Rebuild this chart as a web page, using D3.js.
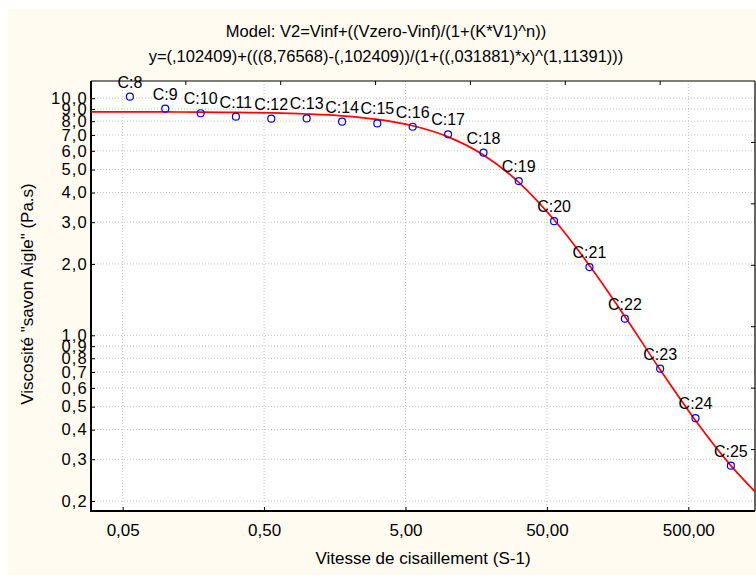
<!DOCTYPE html>
<html lang="fr">
  <head>
    <meta charset="utf-8" />
    <title>Viscosité savon Aigle</title>
    <script src="https://d3js.org/d3.v7.min.js"></script>
    <style>
      body { margin: 0; background: #fff; }
      text { font-family: Arial, "Liberation Sans", sans-serif; fill: #000; }
    </style>
  </head>
  <body>
    <div id="chart"></div>
    <script>
      // measured points C:8 .. C:25
      const pointLabels = ["C:8", "C:9", "C:10", "C:11", "C:12", "C:13", "C:14", "C:15", "C:16",
        "C:17", "C:18", "C:19", "C:20", "C:21", "C:22", "C:23", "C:24", "C:25"];
      const shearRates = [0.0562, 0.1, 0.178, 0.316, 0.562, 1, 1.78, 3.16, 5.62,
        10, 17.8, 31.6, 56.2, 100, 178, 316, 562, 1000];
      const viscosities = [10.15, 9.03, 8.64, 8.36, 8.2, 8.22, 7.96, 7.83, 7.58,
        7.04, 5.89, 4.47, 3.03, 1.94, 1.175, 0.723, 0.447, 0.282];

      // fitted model curve
      const curveX = [0.03, 0.0562, 0.1, 0.178, 0.316, 0.562, 1, 1.78, 3.16, 5.62,
        10, 17.8, 31.6, 56.2, 100, 178, 316, 562, 1000, 1480];
      const curveY = [8.76, 8.76, 8.75, 8.74, 8.71, 8.67, 8.58, 8.43, 8.14, 7.65,
        6.87, 5.76, 4.42, 3.07, 1.97, 1.2, 0.716, 0.437, 0.282, 0.219];

      // axes
      const xTicks = [0.05, 0.5, 5, 50, 500];
      const xTickLabels = ["0,05", "0,50", "5,00", "50,00", "500,00"];
      const yTicks = [0.2, 0.3, 0.4, 0.5, 0.6, 0.7, 0.8, 0.9, 1, 2, 3, 4, 5, 6, 7, 8, 9, 10];
      const yTickLabels = ["0,2", "0,3", "0,4", "0,5", "0,6", "0,7", "0,8", "0,9", "1,0",
        "2,0", "3,0", "4,0", "5,0", "6,0", "7,0", "8,0", "9,0", "10,0"];
      const xRange = [0.02985, 1481];
      const yRange = [0.1815, 11.82];

      const titleLine1 = "Model: V2=Vinf+((Vzero-Vinf)/(1+(K*V1)^n))";
      const titleLine2 = "y=(,102409)+(((8,76568)-(,102409))/(1+((,031881)*x)^(1,11391)))";
      const xTitle = "Vitesse de cisaillement (S-1)";
      const yTitle = 'Viscosité "savon Aigle" (Pa.s)';

      const W = 756, H = 580;
      const margin = { top: 81, right: 1, bottom: 69, left: 91 },
        width = W - margin.left - margin.right,
        height = H - margin.top - margin.bottom;

      const root = d3.select("#chart").append("svg").attr("width", W).attr("height", H);

      // cream background with thin white edge
      root.append("rect").attr("width", W).attr("height", H).attr("fill", "#fff");
      root.append("rect").attr("x", 8).attr("y", 9).attr("width", W - 8).attr("height", H - 14)
        .attr("fill", "#fffbf0");

      // titles (centred on the window, not the plot)
      root.append("text").attr("x", 386).attr("y", 37)
        .attr("text-anchor", "middle").attr("font-size", 16.5).text(titleLine1);
      root.append("text").attr("x", 386).attr("y", 62)
        .attr("text-anchor", "middle").attr("font-size", 16.5).text(titleLine2);

      const svg = root.append("g").attr("transform", `translate(${margin.left},${margin.top})`);
      svg.append("rect").attr("width", width).attr("height", height).attr("fill", "#fff");

      const x = d3.scaleLog().domain(xRange).range([0, width]);
      const y = d3.scaleLog().domain(yRange).range([height, 0]);

      // grid
      svg.append("g").selectAll("line").data(yTicks).join("line")
        .attr("x1", 0).attr("x2", width)
        .attr("y1", (d) => y(d)).attr("y2", (d) => y(d))
        .attr("stroke", "#c4c4c4").attr("stroke-dasharray", "1,2");
      svg.append("g").selectAll("line").data(xTicks).join("line")
        .attr("y1", 0).attr("y2", height)
        .attr("x1", (d) => x(d)).attr("x2", (d) => x(d))
        .attr("stroke", "#c4c4c4").attr("stroke-dasharray", "1,2");

      // axes (ticks point inward)
      const yAxis = svg.append("g")
        .call(d3.axisLeft(y).tickValues(yTicks).tickFormat((d, i) => yTickLabels[i])
          .tickSizeInner(-4).tickSizeOuter(0).tickPadding(3));
      yAxis.select(".domain").remove();
      yAxis.selectAll("text").attr("font-size", 16.5).attr("font-family", null)
        .attr("letter-spacing", 1.2);
      yAxis.selectAll("line").attr("stroke", "#000");

      const xAxis = svg.append("g").attr("transform", `translate(0,${height})`)
        .call(d3.axisBottom(x).tickValues(xTicks).tickFormat((d, i) => xTickLabels[i])
          .tickSizeInner(-4).tickSizeOuter(0).tickPadding(13));
      xAxis.select(".domain").remove();
      xAxis.selectAll("text").attr("font-size", 17).attr("font-family", null);
      xAxis.selectAll("line").attr("stroke", "#000");

      // top and right frame ticks: 7 equal divisions
      const div = d3.range(1, 7);
      svg.append("g").selectAll("line").data(div).join("line")
        .attr("x1", (d) => (d * width) / 7).attr("x2", (d) => (d * width) / 7)
        .attr("y1", 0).attr("y2", 4).attr("stroke", "#000");
      svg.append("g").selectAll("line").data(div).join("line")
        .attr("y1", (d) => (d * height) / 7).attr("y2", (d) => (d * height) / 7)
        .attr("x1", width).attr("x2", width - 4).attr("stroke", "#000");

      // frame
      svg.append("line").attr("x1", 0).attr("x2", width).attr("y1", 0).attr("y2", 0)
        .attr("stroke", "#000").attr("stroke-width", 1.2);
      svg.append("line").attr("x1", width).attr("x2", width).attr("y1", 0).attr("y2", height)
        .attr("stroke", "#000").attr("stroke-width", 1.2);
      svg.append("line").attr("x1", 0).attr("x2", 0).attr("y1", 0).attr("y2", height + 1)
        .attr("stroke", "#000").attr("stroke-width", 2);
      svg.append("line").attr("x1", -1).attr("x2", width).attr("y1", height).attr("y2", height)
        .attr("stroke", "#000").attr("stroke-width", 2);

      // fitted curve
      const curve = curveX.map((d, i) => [d, curveY[i]]);
      const lineGen = d3.line().x((d) => x(d[0])).y((d) => y(d[1])).curve(d3.curveMonotoneX);
      svg.append("path").datum(curve).attr("d", lineGen)
        .attr("fill", "none").attr("stroke", "#ff0000").attr("stroke-width", 1.7);

      // points and labels
      const pts = shearRates.map((d, i) => ({ x: d, y: viscosities[i], label: pointLabels[i] }));
      svg.append("g").selectAll("circle").data(pts).join("circle")
        .attr("cx", (d) => x(d.x)).attr("cy", (d) => y(d.y)).attr("r", 3.5)
        .attr("fill", "none").attr("stroke", "#0000ff").attr("stroke-width", 1.2);
      svg.append("g").selectAll("text").data(pts).join("text")
        .attr("x", (d) => x(d.x)).attr("y", (d) => y(d.y) - 9)
        .attr("text-anchor", "middle").attr("font-size", 16)
        .text((d) => d.label);

      // axis titles
      svg.append("text").attr("x", width / 2).attr("y", height + 53)
        .attr("text-anchor", "middle").attr("font-size", 17).text(xTitle);
      svg.append("text").attr("transform", "rotate(-90)")
        .attr("x", -213).attr("y", -58)
        .attr("text-anchor", "middle").attr("font-size", 17).text(yTitle);
    </script>
  </body>
</html>
